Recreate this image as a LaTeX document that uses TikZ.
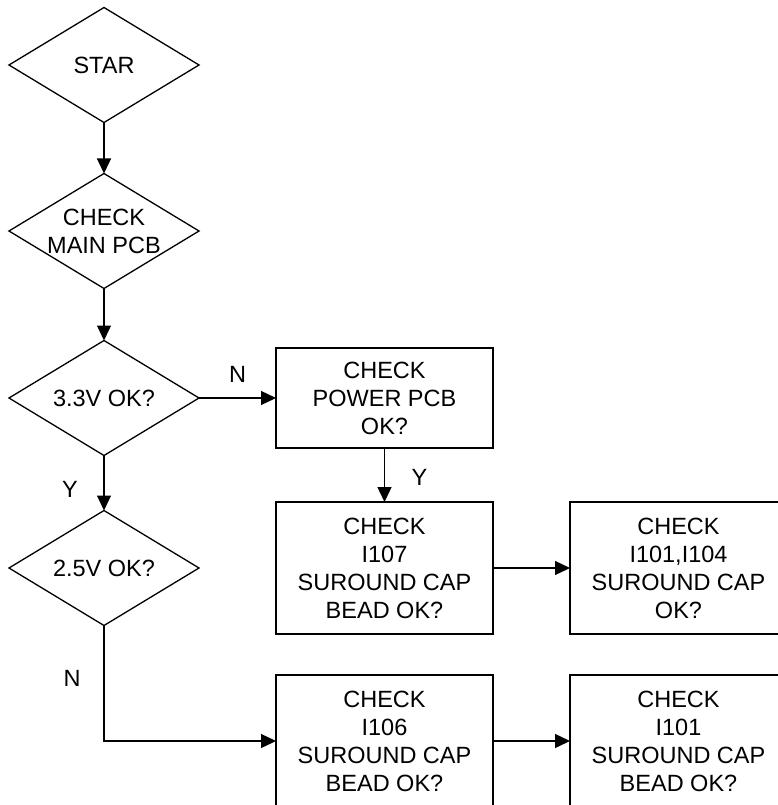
\documentclass[tikz,border=0pt]{standalone}
\usepackage{fontspec}
\setmainfont{Liberation Sans}
\usetikzlibrary{shapes.geometric,arrows.meta}
\begin{document}
\begin{tikzpicture}[x=1pt,y=-1pt,
  txt/.style={font=\fontsize{23.5}{28}\selectfont, align=center},
  dia/.style={shape=diamond, draw, line width=1.3pt, minimum width=190pt, minimum height=115pt, inner sep=0pt, outer sep=0pt},
  box/.style={shape=rectangle, draw, line width=1.3pt, minimum width=217pt, inner sep=0pt, outer sep=0pt, txt},
  arr/.style={line width=1.3pt, -{Triangle[length=15pt,width=14pt]}},
  lbl/.style={txt, inner sep=0pt}]
\useasboundingbox (0,0) rectangle (777,805);
\node[dia, label={[txt]center:{STAR}}] (d1) at (104,65) {};
\node[dia, label={[txt]center:{CHECK\\MAIN PCB}}] (d2) at (104,231) {};
\node[dia, label={[txt]center:{3.3V OK?}}] (d3) at (104,398) {};
\node[dia, label={[txt]center:{2.5V OK?}}] (d4) at (104,568) {};
\node[box, minimum height=100pt] (b1) at (384.5,398) {CHECK\\POWER PCB\\OK?};
\node[box, minimum height=132pt] (b2) at (384.5,568) {CHECK\\I107\\SUROUND CAP\\BEAD OK?};
\node[box, minimum height=132pt] (b3) at (678.5,568) {CHECK\\I101,I104\\SUROUND CAP\\OK?};
\node[box, minimum height=132pt] (b4) at (384.5,741) {CHECK\\I106\\SUROUND CAP\\BEAD OK?};
\node[box, minimum height=132pt] (b5) at (678.5,741) {CHECK\\I101\\SUROUND CAP\\BEAD OK?};
\draw[arr] (d1.south) -- (d2.north);
\draw[arr] (d2.south) -- (d3.north);
\draw[arr] (d3.east) -- node[lbl, pos=0.5, yshift=24pt] {N} (b1.west);
\draw[arr] (b1.south) -- node[lbl, pos=0.5, xshift=35pt, yshift=-2pt] {Y} (b2.north);
\draw[arr] (d3.south) -- node[lbl, pos=0.5, xshift=-34pt, yshift=-6pt] {Y} (d4.north);
\draw[arr] (d4.south) |- node[lbl, pos=0.25, xshift=-32pt, yshift=5pt] {N} (b4.west);
\draw[arr] (b2.east) -- (b3.west);
\draw[arr] (b4.east) -- (b5.west);
\end{tikzpicture}
\end{document}
